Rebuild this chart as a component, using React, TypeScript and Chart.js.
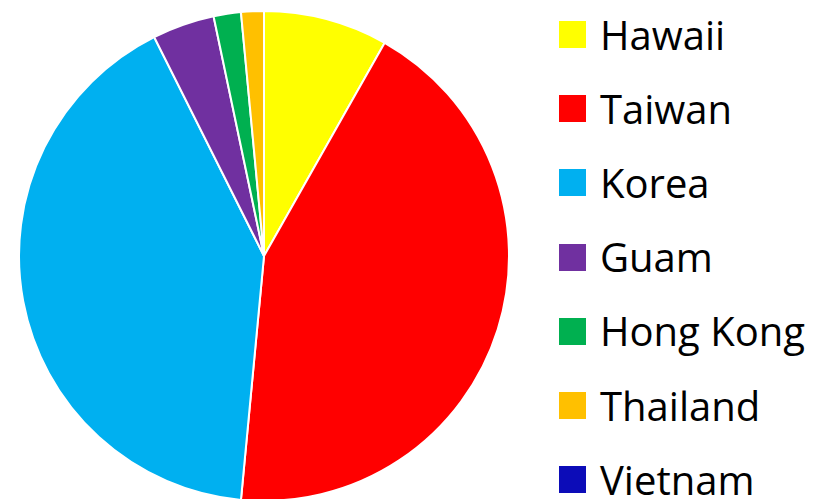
import React, { useEffect, useRef } from "react";
import { Chart, registerables } from "chart.js";

Chart.register(...registerables);

const labels = ["Hawaii", "Taiwan", "Korea", "Guam", "Hong Kong", "Thailand", "Vietnam"];
const values = [8.2, 43.3, 41.1, 4.1, 1.8, 1.5, 0];
const colors = ["#FFFF00", "#FF0000", "#00B0F0", "#7030A0", "#00B050", "#FFC000", "#0C0CB8"];

export default function App() {
  const canvasRef = useRef<HTMLCanvasElement | null>(null);

  useEffect(() => {
    if (!canvasRef.current) return;
    const chart = new Chart(canvasRef.current, {
      type: "pie",
      data: {
        labels,
        datasets: [
          {
            data: values,
            backgroundColor: colors,
            borderColor: "#FFFFFF",
            borderWidth: 2,
          },
        ],
      },
      options: {
        animation: false,
        responsive: false,
        maintainAspectRatio: false,
        rotation: 0,
        layout: { padding: 0 },
        plugins: {
          legend: { display: false },
          tooltip: { enabled: false },
        },
      },
    });
    return () => chart.destroy();
  }, []);

  const rowStart = 34.5;
  const rowStep = 74.2;
  const rowH = 50;

  return (
    <div
      style={{
        position: "fixed",
        left: 0,
        top: 0,
        width: 827,
        height: 499,
        overflow: "hidden",
        background: "#ffffff",
      }}
    >
      <div style={{ position: "absolute", left: 18, top: 10, width: 492, height: 492 }}>
        <canvas ref={canvasRef} width={492} height={492} style={{ width: 492, height: 492 }} />
      </div>
      {labels.map((lab, i) => (
        <div
          key={lab}
          style={{
            position: "absolute",
            left: 559,
            top: rowStart + rowStep * i - rowH / 2,
            height: rowH,
            display: "flex",
            alignItems: "center",
            whiteSpace: "nowrap",
          }}
        >
          <div style={{ width: 27, height: 27, background: colors[i], flex: "none" }} />
          <span
            style={{
              marginLeft: 14,
              fontFamily: "'Open Sans', sans-serif",
              fontSize: 40,
              lineHeight: `${rowH}px`,
              color: "#000000",
            }}
          >
            {lab}
          </span>
        </div>
      ))}
    </div>
  );
}
